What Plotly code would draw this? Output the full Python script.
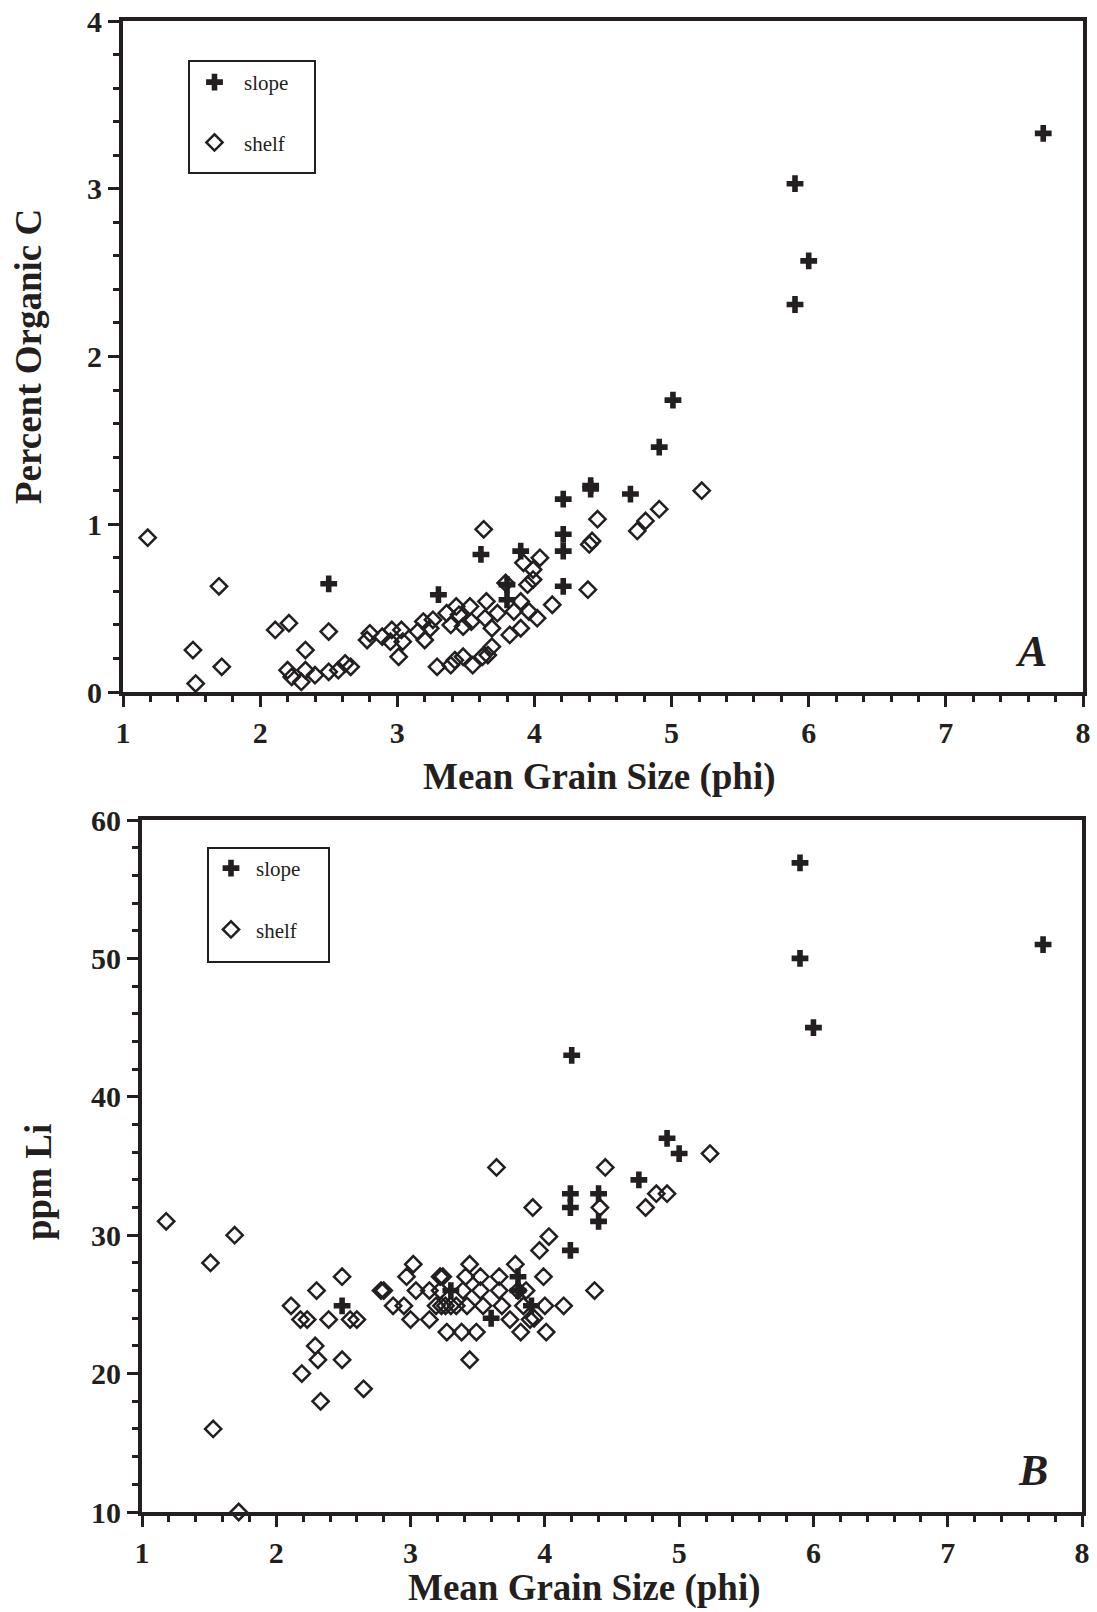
import plotly.graph_objects as go

# ---------------- Panel A: Percent Organic C ----------------
a_slope_x = [7.71, 5.90, 6.00, 5.90, 5.01, 4.91, 4.70, 4.41, 4.41, 4.21, 4.21, 4.21, 4.21,
             3.90, 3.61, 3.80, 3.80, 3.30, 2.50]
a_slope_y = [3.33, 3.03, 2.57, 2.31, 1.74, 1.46, 1.18, 1.23, 1.21, 1.15, 0.94, 0.84, 0.63,
             0.84, 0.82, 0.64, 0.55, 0.58, 0.645]

a_shelf_x = [1.18, 1.51, 1.53, 1.70, 1.72, 2.11, 2.21, 2.50, 2.33, 2.20, 2.23, 2.30, 2.33,
             2.40, 2.50, 2.57, 2.62, 2.66, 2.80, 2.78, 2.89, 2.96, 2.95, 3.01, 3.03, 3.04,
             3.15, 3.20, 3.24, 3.19, 3.26, 3.29, 3.39, 3.42, 3.48, 3.39, 3.36, 3.45, 3.43,
             3.48, 3.53, 3.54, 3.55, 3.63, 3.62, 3.66, 3.69, 3.65, 3.64, 3.69, 3.73, 3.79,
             3.82, 3.85, 3.90, 3.90, 3.92, 3.95, 3.99, 3.99, 3.96, 4.02, 4.04, 4.13, 4.39,
             4.40, 4.42, 4.46, 4.75, 4.81, 4.91, 5.22]
a_shelf_y = [0.92, 0.25, 0.05, 0.63, 0.15, 0.37, 0.41, 0.36, 0.25, 0.13, 0.09, 0.06, 0.13,
             0.10, 0.12, 0.13, 0.17, 0.15, 0.35, 0.31, 0.33, 0.37, 0.30, 0.21, 0.37, 0.30,
             0.36, 0.31, 0.38, 0.42, 0.43, 0.15, 0.16, 0.19, 0.21, 0.40, 0.47, 0.46, 0.51,
             0.39, 0.51, 0.42, 0.16, 0.97, 0.21, 0.22, 0.27, 0.54, 0.44, 0.38, 0.47, 0.65,
             0.34, 0.48, 0.54, 0.38, 0.77, 0.64, 0.73, 0.67, 0.48, 0.44, 0.80, 0.52, 0.61,
             0.88, 0.90, 1.03, 0.96, 1.02, 1.09, 1.20]

# ---------------- Panel B: ppm Li ----------------
b_slope_x = [5.90, 5.90, 6.00, 7.71, 4.20, 4.91, 5.00, 4.70, 4.19, 4.19, 4.40, 4.40, 4.19,
             3.80, 3.80, 3.90, 3.60, 3.30, 2.49]
b_slope_y = [56.9, 50.0, 45.0, 51.0, 43.0, 37.0, 35.9, 34.0, 33.0, 32.0, 33.0, 31.0, 28.9,
             27.0, 26.0, 24.9, 24.0, 26.0, 24.9]

b_shelf_x = [1.18, 1.51, 1.69, 1.53, 1.72, 2.11, 2.19, 2.29, 2.30, 2.31, 2.33, 2.18, 2.23,
             2.39, 2.49, 2.49, 2.55, 2.60, 2.65, 2.78, 2.80, 2.87, 2.95, 2.97, 3.02, 3.04,
             3.00, 3.14, 3.14, 3.22, 3.24, 3.19, 3.23, 3.26, 3.30, 3.34, 3.22, 3.39, 3.42,
             3.44, 3.41, 3.27, 3.38, 3.49, 3.44, 3.52, 3.52, 3.54, 3.64, 3.66, 3.66, 3.68,
             3.74, 3.78, 3.82, 3.80, 3.86, 3.89, 3.91, 3.96, 3.99, 4.00, 4.01, 4.03, 4.14,
             4.37, 4.41, 4.45, 4.75, 4.83, 4.91, 5.23, 3.92, 3.84]
b_shelf_y = [31.0, 28.0, 30.0, 16.0, 10.0, 24.9, 20.0, 22.0, 26.0, 21.0, 18.0, 23.9, 23.9,
             23.9, 27.0, 21.0, 23.9, 23.9, 18.9, 26.0, 26.0, 24.9, 24.9, 27.0, 27.9, 26.0,
             23.9, 23.9, 26.0, 27.0, 27.0, 24.9, 24.9, 24.9, 24.9, 24.9, 26.0, 26.0, 24.9,
             27.9, 27.0, 23.0, 23.0, 23.0, 21.0, 27.0, 26.0, 24.9, 34.9, 27.0, 26.0, 24.9,
             23.9, 27.9, 23.0, 26.0, 26.0, 23.9, 32.0, 28.9, 27.0, 24.9, 23.0, 29.9, 24.9,
             26.0, 32.0, 34.9, 32.0, 33.0, 33.0, 35.9, 24.0, 24.9]

x_ticks = [1, 2, 3, 4, 5, 6, 7, 8]
a_y_ticks = [0, 1, 2, 3, 4]
b_y_ticks = [10, 20, 30, 40, 50, 60]

INK = "#231f20"
SERIF = "Liberation Serif"
W, H = 1097, 1612

slope_marker = dict(symbol="cross", size=14, color=INK, line=dict(width=0))
shelf_marker = dict(symbol="diamond-open", size=12.5, color=INK, line=dict(width=2.5, color=INK))

fig = go.Figure()
fig.add_trace(go.Scatter(x=a_shelf_x, y=a_shelf_y, mode="markers", name="shelf",
                         marker=shelf_marker, xaxis="x", yaxis="y", cliponaxis=False,
                         legend="legend", legendgroup="a2", legendrank=2))
fig.add_trace(go.Scatter(x=a_slope_x, y=a_slope_y, mode="markers", name="slope",
                         marker=slope_marker, xaxis="x", yaxis="y", cliponaxis=False,
                         legend="legend", legendgroup="a1", legendrank=1))
fig.add_trace(go.Scatter(x=b_shelf_x, y=b_shelf_y, mode="markers", name="shelf",
                         marker=shelf_marker, xaxis="x2", yaxis="y2", cliponaxis=False,
                         legend="legend2", legendgroup="b2", legendrank=2))
fig.add_trace(go.Scatter(x=b_slope_x, y=b_slope_y, mode="markers", name="slope",
                         marker=slope_marker, xaxis="x2", yaxis="y2", cliponaxis=False,
                         legend="legend2", legendgroup="b1", legendrank=1))


def tickfont():
    return dict(family=SERIF, size=30, color=INK, weight="bold")


def xax(domain, anchor):
    return dict(domain=domain, anchor=anchor, range=[1, 8], tickmode="array",
                tickvals=x_ticks, ticktext=["<b>%d</b>" % v for v in x_ticks],
                showline=True, mirror=True, linewidth=4, linecolor=INK,
                ticks="outside", ticklen=11, tickwidth=3, tickcolor=INK,
                minor=dict(dtick=0.2, tick0=1, ticks="outside", ticklen=6, tickwidth=3,
                           tickcolor=INK),
                showgrid=False, zeroline=False, tickfont=tickfont(), fixedrange=True,
                automargin=False)


def yax(domain, anchor, rng, tv, mdt):
    return dict(domain=domain, anchor=anchor, range=rng, tickmode="array",
                tickvals=tv, ticktext=["<b>%d</b>" % v for v in tv],
                showline=True, mirror=True, linewidth=4, linecolor=INK,
                ticks="outside", ticklen=11, tickwidth=3, tickcolor=INK,
                minor=dict(dtick=mdt, tick0=rng[0], ticks="outside", ticklen=6,
                           tickwidth=3, tickcolor=INK),
                showgrid=False, zeroline=False, tickfont=tickfont(), fixedrange=True,
                automargin=False)


xa_dom = [123 / W, 1083 / W]
ya_dom = [1 - 692 / H, 1 - 21 / H]
xb_dom = [142 / W, 1082 / W]
yb_dom = [1 - 1512 / H, 1 - 820 / H]

legfont = dict(family=SERIF, size=21, color=INK)
title_font = dict(family=SERIF, size=37, color=INK, weight="bold")

fig.update_layout(
    width=W, height=H, margin=dict(l=0, r=0, t=0, b=0, autoexpand=False),
    paper_bgcolor="white", plot_bgcolor="white",
    xaxis=xax(xa_dom, "y"), yaxis=yax(ya_dom, "x", [0, 4], a_y_ticks, 0.2),
    xaxis2=xax(xb_dom, "y2"), yaxis2=yax(yb_dom, "x2", [10, 60], b_y_ticks, 2),
    legend=dict(x=185 / W, y=1 - 62 / H, xanchor="left", yanchor="top",
                bgcolor="rgba(0,0,0,0)", borderwidth=0, font=legfont,
                tracegroupgap=30, itemwidth=49),
    legend2=dict(x=206 / W, y=1 - 848 / H, xanchor="left", yanchor="top",
                 bgcolor="rgba(0,0,0,0)", borderwidth=0, font=legfont,
                 tracegroupgap=31, itemwidth=40),
    showlegend=True,
    shapes=[
        dict(type="rect", xref="paper", yref="paper", x0=189 / W, x1=315 / W,
             y0=1 - 173 / H, y1=1 - 61 / H, line=dict(color=INK, width=2)),
        dict(type="rect", xref="paper", yref="paper", x0=208 / W, x1=329 / W,
             y0=1 - 962 / H, y1=1 - 848 / H, line=dict(color=INK, width=2)),
    ],
    annotations=[
        dict(text="Mean Grain Size (phi)", xref="paper", yref="paper", x=599 / W, y=1 - 777 / H,
             showarrow=False, xanchor="center", yanchor="middle", font=title_font),
        dict(text="Mean Grain Size (phi)", xref="paper", yref="paper", x=584 / W, y=1 - 1588 / H,
             showarrow=False, xanchor="center", yanchor="middle", font=title_font),
        dict(text="Percent Organic C", xref="paper", yref="paper", x=28 / W, y=1 - 357 / H,
             showarrow=False, xanchor="center", yanchor="middle", textangle=-90,
             font=title_font),
        dict(text="ppm Li", xref="paper", yref="paper", x=38 / W, y=1 - 1182 / H,
             showarrow=False, xanchor="center", yanchor="middle", textangle=-90,
             font=title_font),
        dict(text="<b><i>A</i></b>", xref="paper", yref="paper", x=1031 / W, y=1 - 652 / H,
             showarrow=False, xanchor="center", yanchor="middle",
             font=dict(family=SERIF, size=44, color=INK)),
        dict(text="<b><i>B</i></b>", xref="paper", yref="paper", x=1033 / W, y=1 - 1470 / H,
             showarrow=False, xanchor="center", yanchor="middle",
             font=dict(family=SERIF, size=44, color=INK)),
    ],
)

fig.write_html("out.html")
